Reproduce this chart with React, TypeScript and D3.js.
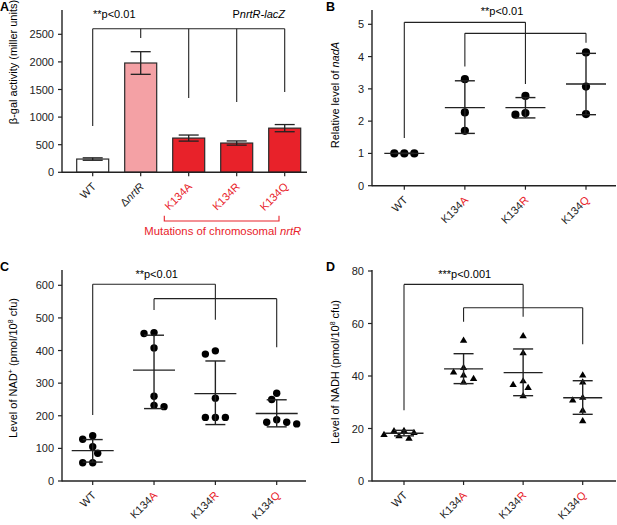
import React from "react";
import { scaleLinear, scaleBand, scalePoint, line } from "d3";

// ---- panel A : beta-gal bars ----
const barCats = ["WT", "ΔnrtR", "K134A", "K134R", "K134Q"];
const barValues = [240, 1980, 620, 530, 800];
const barErr = [22, 205, 55, 38, 65];
const barTicks = [0, 500, 1000, 1500, 2000, 2500];
// bracket drop ends, in data units
const barBracketTop = 2600;
const barBracketEnds = [838, 2433, 1346, 1273, 1454];

// ---- scatter panels ----
const scatCats = ["WT", "K134A", "K134R", "K134Q"];

const nadAPoints = [
  [1, 1, 1],
  [3.3, 2.27, 1.7],
  [2.78, 2.2, 2.25],
  [4.13, 3.07, 2.22],
];
const nadAMean = [1.0, 2.42, 2.42, 3.15];
const nadASdLo = [1.0, 1.62, 2.1, 2.2];
const nadASdHi = [1.0, 3.25, 2.73, 4.1];
const nadATicks = [0, 1, 2, 3, 4, 5];

const nadPoints = [
  [139, 128, 105, 85, 56, 56],
  [455, 452, 408, 260, 228, 232],
  [389, 399, 254, 195, 195, 195],
  [269, 250, 180, 175, 180, 188],
];
const nadMean = [93, 340, 268, 207];
const nadSdLo = [58, 222, 173, 166];
const nadSdHi = [127, 447, 368, 249];
const nadTicks = [0, 100, 200, 300, 400, 500, 600];

const nadhPoints = [
  [19.2, 17.8, 16.3, 17.3, 18.5, 19.3],
  [53.7, 43.3, 41.6, 40.4, 39.1, 37.8],
  [55.4, 48.9, 38.2, 36.8, 35.7, 32.5],
  [40.4, 37.8, 30.9, 31.9, 27.0, 23.0],
];
const nadhMean = [18.2, 42.7, 41.3, 31.7];
const nadhSdLo = [17.2, 37.1, 32.5, 25.4];
const nadhSdHi = [19.3, 48.5, 50.3, 38.2];
const nadhTicks = [0, 20, 40, 60, 80];

const RED = "#e8222a";
const INK = "#222";
const FONT = "'Liberation Sans', Arial, sans-serif";

// greedy beeswarm, alternates sides
function swarm(vals: number[], y: any, step: number, d: number) {
  const order = vals.map((v, i) => i).sort((a, b) => vals[b] - vals[a]);
  const placed: { x: number; y: number }[] = [];
  const offs: number[] = new Array(vals.length).fill(0);
  let lastSign = 1;
  order.forEach((i) => {
    const py = y(vals[i]);
    for (let k = 0; k < 10; k++) {
      const cands = k === 0 ? [0] : [-lastSign * k * step, lastSign * k * step];
      const ok = cands.find((cx) =>
        placed.every((p) => Math.hypot(p.x - cx, p.y - py) >= d)
      );
      if (ok !== undefined) {
        offs[i] = ok;
        if (ok !== 0) lastSign = Math.sign(ok);
        placed.push({ x: ok, y: py });
        break;
      }
    }
  });
  return offs;
}

const YAxis = ({ x, y, ticks, top }: any) => (
  <g>
    <line x1={x} x2={x} y1={y(0) + 0.5} y2={top} stroke={INK} strokeWidth={1.4} />
    {ticks.map((t: number) => (
      <g key={t}>
        <line x1={x - 4} x2={x} y1={y(t)} y2={y(t)} stroke={INK} strokeWidth={1.2} />
        <text x={x - 8} y={y(t) + 4} textAnchor="end" fontSize={11} fill="#222">
          {t}
        </text>
      </g>
    ))}
  </g>
);

const Bracket = ({ x, y, top, ends }: any) => {
  const xs = x.domain().map((c: string) => x(c) + (x.bandwidth ? x.bandwidth() / 2 : 0));
  return (
    <g stroke={INK} strokeWidth={1.1} fill="none">
      <line x1={xs[0]} x2={xs[xs.length - 1]} y1={y(top)} y2={y(top)} />
      {ends.map((e: number, i: number) => (
        <line key={i} x1={xs[i]} x2={xs[i]} y1={y(top)} y2={y(e)} />
      ))}
    </g>
  );
};

const BarPanel = () => {
  const y = scaleLinear().domain([0, 2500]).range([172.3, 34.3]);
  const x = scaleBand().domain(barCats).range([68.7, 308.7]).paddingInner(1 / 3).paddingOuter(1 / 6);
  const base = y(0);
  const fills = ["#ffffff", "#f4a1a5", RED, RED, RED];
  const cap = 10;
  return (
    <g>
      <text x={0} y={11} fontSize={12.5} fontWeight="bold">A</text>
      {barCats.map((c, i) => {
        const bx = x(c) as number;
        const cx = bx + x.bandwidth() / 2;
        return (
          <g key={c}>
            <rect x={bx} y={y(barValues[i])} width={x.bandwidth()} height={base - y(barValues[i])}
              fill={fills[i]} stroke="#2a2a2a" strokeWidth={1.2} />
            <g stroke={INK} strokeWidth={1.3}>
              <line x1={cx} x2={cx} y1={y(barValues[i] - barErr[i])} y2={y(barValues[i] + barErr[i])} />
              <line x1={cx - cap} x2={cx + cap} y1={y(barValues[i] + barErr[i])} y2={y(barValues[i] + barErr[i])} />
              <line x1={cx - cap} x2={cx + cap} y1={y(barValues[i] - barErr[i])} y2={y(barValues[i] - barErr[i])} />
            </g>
            <line x1={cx} x2={cx} y1={base} y2={base + 4} stroke={INK} strokeWidth={1.2} />
            <text transform={`translate(${cx + 4},${base + 15}) rotate(-45)`} textAnchor="end"
              fontSize={11} fill={i >= 2 ? RED : "#222"}>
              {i === 1 ? (<>Δ<tspan fontStyle="italic">nrtR</tspan></>) : c}
            </text>
          </g>
        );
      })}
      <YAxis x={62} y={y} ticks={barTicks} top={10} />
      <line x1={62} x2={307} y1={base} y2={base} stroke={INK} strokeWidth={1.4} />
      <Bracket x={x} y={y} top={barBracketTop} ends={barBracketEnds} />
      <text x={93} y={17.5} fontSize={11}>**p&lt;0.01</text>
      <text x={285} y={17.5} fontSize={11} textAnchor="end">
        P<tspan fontStyle="italic">nrtR-lacZ</tspan>
      </text>
      <text transform="translate(17,62) rotate(-90)" textAnchor="middle" fontSize={11}>
        β-gal activity (miller units)
      </text>
      <path d={line()([[164.3, 215.7], [164.3, 221], [279, 221], [279, 215.7]]) as string}
        fill="none" stroke={RED} strokeWidth={1.1} />
      <text x={222.8} y={234.5} fontSize={11.3} textAnchor="middle" fill={RED}>
        Mutations of chromosomal <tspan fontStyle="italic">nrtR</tspan>
      </text>
    </g>
  );
};

interface ScatterProps {
  letter: string;
  letterX: number;
  ox: number;
  oy: number;
  points: number[][];
  mean: number[];
  sdLo: number[];
  sdHi: number[];
  ticks: number[];
  yMax: number;
  yRange: [number, number];
  xRange: [number, number];
  marker: "dot" | "tri";
  title: React.ReactNode;
  titlePos: [number, number];
  sig: string;
  sigPos: [number, number];
  b1: number[];
  b2: number[];
  halfMean: number;
}

const ScatterPanel: React.FC<ScatterProps> = (p) => {
  const y = scaleLinear().domain([0, p.yMax]).range(p.yRange);
  const x = scalePoint().domain(scatCats).range(p.xRange);
  const axX = p.ox + 62;
  const base = y(0);
  const d = p.marker === "dot" ? (p.yMax === 5 ? 8 : 7) : 6.8;
  const r = p.marker === "dot" ? (p.yMax === 5 ? 4.1 : 3.7) : 3.6;
  const xs = scatCats.map((c) => x(c) as number);
  const [bTop1, bWT, bR] = p.b1;
  const [bTop2, bA, bQ] = p.b2;
  return (
    <g>
      <text x={p.letterX} y={p.oy + 11} fontSize={12.5} fontWeight="bold">{p.letter}</text>
      <YAxis x={axX} y={y} ticks={p.ticks} top={p.oy + 10} />
      <line x1={axX} x2={p.ox + 306} y1={base} y2={base} stroke={INK} strokeWidth={1.4} />
      {scatCats.map((c, i) => {
        const cx = xs[i];
        const offs = swarm(p.points[i], y, 5, d);
        return (
          <g key={c}>
            <line x1={cx} x2={cx} y1={base} y2={base + 4} stroke={INK} strokeWidth={1.2} />
            <text transform={`translate(${cx + 4},${base + 15}) rotate(-45)`} textAnchor="end" fontSize={11} fill="#222">
              {i === 0 ? c : (<>{c.slice(0, 4)}<tspan fill={RED}>{c.slice(4)}</tspan></>)}
            </text>
            {p.points[i].map((v, j) => {
              const px = cx + offs[j];
              const py = y(v);
              return p.marker === "dot" ? (
                <circle key={j} cx={px} cy={py} r={r} fill="#000" />
              ) : (
                <path key={j} d={`M${px},${py - 3.6}L${px + 3.7},${py + 2.6}L${px - 3.7},${py + 2.6}Z`} fill="#000" />
              );
            })}
            <g stroke={INK} strokeWidth={1.4}>
              <line x1={cx} x2={cx} y1={y(p.sdLo[i])} y2={y(p.sdHi[i])} />
              <line x1={cx - 10} x2={cx + 10} y1={y(p.sdLo[i])} y2={y(p.sdLo[i])} />
              <line x1={cx - 10} x2={cx + 10} y1={y(p.sdHi[i])} y2={y(p.sdHi[i])} />
              <line x1={cx - p.halfMean} x2={cx + p.halfMean} y1={y(p.mean[i])} y2={y(p.mean[i])} />
            </g>
          </g>
        );
      })}
      <g stroke={INK} strokeWidth={1.1} fill="none">
        <line x1={xs[0]} x2={xs[2]} y1={y(bTop1)} y2={y(bTop1)} />
        <line x1={xs[0]} x2={xs[0]} y1={y(bTop1)} y2={y(bWT)} />
        <line x1={xs[2]} x2={xs[2]} y1={y(bTop1)} y2={y(bR)} />
        <line x1={xs[1]} x2={xs[3]} y1={y(bTop2)} y2={y(bTop2)} />
        <line x1={xs[1]} x2={xs[1]} y1={y(bTop2)} y2={y(bA)} />
        <line x1={xs[3]} x2={xs[3]} y1={y(bTop2)} y2={y(bQ)} />
      </g>
      <text x={p.sigPos[0]} y={p.sigPos[1]} fontSize={11} textAnchor="middle">{p.sig}</text>
      <text transform={`translate(${p.titlePos[0]},${p.titlePos[1]}) rotate(-90)`} textAnchor="middle" fontSize={11}>
        {p.title}
      </text>
    </g>
  );
};

export default function App() {
  return (
    <svg width={617} height={525} style={{ position: "absolute", left: 0, top: 0, background: "#fff" }}
      fontFamily={FONT}>
      <rect width={617} height={525} fill="#fff" />
      <BarPanel />
      <ScatterPanel letter="B" letterX={326} ox={310} oy={0} points={nadAPoints} mean={nadAMean} sdLo={nadASdLo} sdHi={nadASdHi}
        ticks={nadATicks} yMax={5} yRange={[185.7, 24.3]} xRange={[404.3, 586]} marker="dot"
        title={<>Relative level of <tspan fontStyle="italic">nadA</tspan></>} titlePos={[339, 95]}
        sig="**p<0.01" sigPos={[502, 15]} b1={[5.06, 1.48, 3.15]} b2={[4.72, 3.69, 4.43]} halfMean={20} />
      <ScatterPanel letter="C" letterX={0} ox={0} oy={260} points={nadPoints} mean={nadMean} sdLo={nadSdLo} sdHi={nadSdHi}
        ticks={nadTicks} yMax={600} yRange={[481, 285.3]} xRange={[92.7, 276.7]} marker="dot"
        title={<>Level of NAD<tspan dy={-4} fontSize={7}>+</tspan><tspan dy={4}> (pmol/10</tspan><tspan dy={-4} fontSize={7}>8</tspan><tspan dy={4}> cfu)</tspan></>}
        titlePos={[17, 368]}
        sig="**p<0.01" sigPos={[156.7, 278.3]} b1={[603, 202, 494]} b2={[559, 524, 410]} halfMean={21} />
      <ScatterPanel letter="D" letterX={326} ox={310} oy={260} points={nadhPoints} mean={nadhMean} sdLo={nadhSdLo} sdHi={nadhSdHi}
        ticks={nadhTicks} yMax={80} yRange={[481, 271]} xRange={[404, 582.7]} marker="tri"
        title={<>Level of NADH (pmol/10<tspan dy={-4} fontSize={7}>8</tspan><tspan dy={4}> cfu)</tspan></>}
        titlePos={[339, 372]}
        sig="***p<0.001" sigPos={[464.7, 278.3]} b1={[74.9, 27, 62.6]} b2={[66, 60.7, 52.1]} halfMean={19.5} />
    </svg>
  );
}
